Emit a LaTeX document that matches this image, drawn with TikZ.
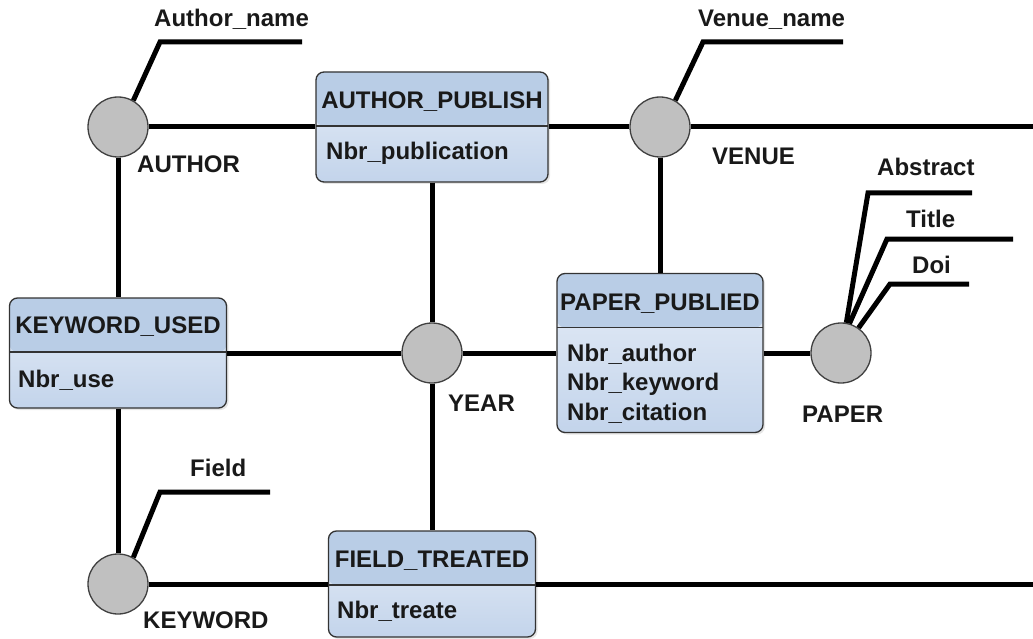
\documentclass[tikz,border=0pt]{standalone}
\usepackage{fontspec}
\setmainfont{Liberation Sans}
\usetikzlibrary{positioning,shadows}

\definecolor{hdrblue}{HTML}{B9CDE6}
\definecolor{bodytop}{HTML}{E6EDF7}
\definecolor{bodybot}{HTML}{C3D4EB}
\definecolor{dimgray}{HTML}{C0C0C0}

\tikzset{
  link/.style={line width=5pt},
  dim/.style={circle, draw=black!75, line width=1.3pt, fill=dimgray, minimum size=60pt, inner sep=0pt},
  fact/.style={rectangle, rounded corners=8pt, draw=black!80, line width=1.3pt,
    top color=bodytop, bottom color=bodybot, inner sep=0pt,
    drop shadow={opacity=0.2, shadow xshift=2pt, shadow yshift=-2pt},
    path picture={
      \fill[hdrblue] (path picture bounding box.north west) rectangle ([yshift=-54pt]path picture bounding box.north east);
      \draw[black!80, line width=1.3pt] ([yshift=-54pt]path picture bounding box.north west) -- ([yshift=-54pt]path picture bounding box.north east);
    }},
  txt/.style={font=\fontsize{24}{29}\selectfont\bfseries, text=black!90, inner sep=0pt},
}

\begin{document}
\begin{tikzpicture}[x=1pt, y=-1pt]
    \useasboundingbox (0,0) rectangle (1033,639);

    % dimensions
    \node [dim] (au) at (118,127) {};
    \node [dim] (ve) at (660,127) {};
    \node [dim] (yr) at (432,353) {};
    \node [dim] (pa) at (841,353) {};
    \node [dim] (kw) at (118,584) {};

    % fact tables
    \node [fact, minimum width=232pt, minimum height=110pt] (ap) at (432,127) {};
    \node [fact, minimum width=217pt, minimum height=110pt] (ku) at (118,353) {};
    \node [fact, minimum width=206pt, minimum height=159pt] (pp) at (660,353) {};
    \node [fact, minimum width=207pt, minimum height=106pt] (ft) at (432,584) {};

    \coordinate (ve-e) at (1033,127);
    \coordinate (ft-e) at (1033,584);

    % links between dimensions and facts
    \draw [link] (au) -- (ap);
    \draw [link] (ap) -- (ve);
    \draw [link] (ve) -- (ve-e);
    \draw [link] (au) -- (ku);
    \draw [link] (ku) -- (kw);
    \draw [link] (ku) -- (yr);
    \draw [link] (yr) -- (pp);
    \draw [link] (pp) -- (pa);
    \draw [link] (ap) -- (yr);
    \draw [link] (yr) -- (ft);
    \draw [link] (ve) -- (pp);
    \draw [link] (kw) -- (ft);
    \draw [link] (ft) -- (ft-e);

    % attributes
    \coordinate (an-k) at (160,42);  \coordinate (an-e) at (302,42);
    \coordinate (vn-k) at (703,42);  \coordinate (vn-e) at (843,42);
    \coordinate (fd-k) at (160,492); \coordinate (fd-e) at (270,492);
    \coordinate (ab-k) at (868,193); \coordinate (ab-e) at (972,193);
    \coordinate (ti-k) at (887,239); \coordinate (ti-e) at (1013,239);
    \coordinate (do-k) at (890,284); \coordinate (do-e) at (969,284);
    \draw [link] (au.60) -- (an-k) -- (an-e);
    \draw [link] (ve.60) -- (vn-k) -- (vn-e);
    \draw [link] (kw.60) -- (fd-k) -- (fd-e);
    \draw [link] (pa.80) -- (ab-k) -- (ab-e);
    \draw [link] (pa.74) -- (ti-k) -- (ti-e);
    \draw [link] (pa.55) -- (do-k) -- (do-e);

    \node [txt, anchor=base west] (an) at (154,27) {Author\_name};
    \node [txt, anchor=base west] (vn) at (698,27) {Venue\_name};
    \node [txt, anchor=base west] (fd) at (190,476) {Field};
    \node [txt, anchor=base west] (ab) at (877,176) {Abstract};
    \node [txt, anchor=base west] (ti) at (906,227) {Title};
    \node [txt, anchor=base west] (do) at (912,273) {Doi};

    % dimension names
    \node [txt, anchor=base west] (au-l) at (137,173) {AUTHOR};
    \node [txt, anchor=base west] (ve-l) at (712,165) {VENUE};
    \node [txt, anchor=base west] (yr-l) at (448,411) {YEAR};
    \node [txt, anchor=base west] (pa-l) at (802,422) {PAPER};
    \node [txt, anchor=base west] (kw-l) at (143,628) {KEYWORD};

    % table headers and measures
    \node [txt, anchor=base] (ap-h) at (432,109) {AUTHOR\_PUBLISH};
    \node [txt, anchor=base west] (ap-1) at (326,160) {Nbr\_publication};
    \node [txt, anchor=base] (ku-h) at (118,333) {KEYWORD\_USED};
    \node [txt, anchor=base west] (ku-1) at (18,387) {Nbr\_use};
    \node [txt, anchor=base] (pp-h) at (660,310) {PAPER\_PUBLIED};
    \node [txt, anchor=base west] (pp-1) at (567,361) {Nbr\_author};
    \node [txt, anchor=base west] (pp-2) at (567,390) {Nbr\_keyword};
    \node [txt, anchor=base west] (pp-3) at (567,420) {Nbr\_citation};
    \node [txt, anchor=base] (ft-h) at (432,567) {FIELD\_TREATED};
    \node [txt, anchor=base west] (ft-1) at (337,618) {Nbr\_treate};
\end{tikzpicture}
\end{document}
